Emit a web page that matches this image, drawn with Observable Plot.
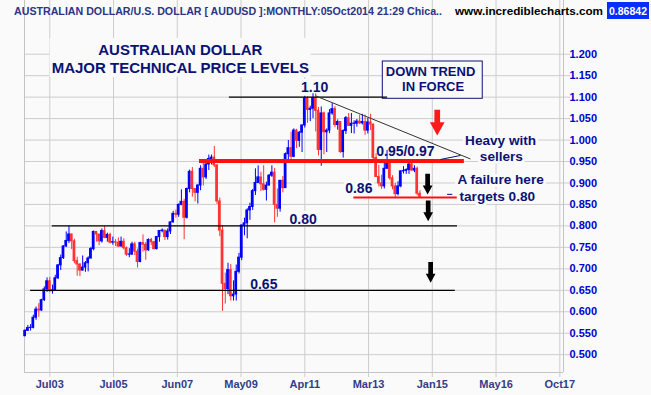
<!DOCTYPE html>
<html>
<head>
<meta charset="utf-8">
<script src="https://cdn.jsdelivr.net/npm/d3@7"></script>
<script src="https://cdn.jsdelivr.net/npm/@observablehq/plot@0.6"></script>
<style>
  html, body { margin: 0; padding: 0; background: #fafafa; }
  #wrap { position: relative; width: 651px; height: 395px; overflow: hidden; background: #fafafa; }
  #wrap svg { display: block; }
  #hdr { position: absolute; left: 0; top: 0; font-family: "Liberation Sans", Arial, sans-serif; font-weight: bold; }
</style>
</head>
<body>
<div id="wrap"></div>
<script>
// ---------------- DATA ----------------
// Monthly AUD/USD bars, index 0 = Oct 2002 ... index 144 = Oct 2014
const firstBar = "Oct 2002";
const open = [
  .5430,.5555,.5620,
  .5625,.5860,.6050,.6030,.6270,.6520,.6710,.6480,.6500,.6780,.7080,.7250,
  .7520,.7650,.7800,.7640,.7180,.7100,.6960,.7030,.7130,.7240,.7460,.7860,
  .7800,.7640,.7880,.7720,.7790,.7610,.7620,.7610,.7520,.7630,.7480,.7330,
  .7330,.7570,.7400,.7160,.7600,.7560,.7430,.7670,.7620,.7460,.7740,.7880,
  .7890,.7740,.7870,.8080,.8280,.8260,.8490,.8560,.8190,.8860,.9260,.8860,
  .8770,.8940,.9330,.9130,.9430,.9560,.9590,.9410,.8570,.7890,.6650,.6530,
  .6970,.6360,.6400,.6930,.7260,.8010,.8060,.8360,.8440,.8810,.9000,.9130,
  .8970,.8840,.8940,.9170,.9240,.8490,.8400,.9050,.8880,.9670,.9810,.9610,
  1.0220,.9980,1.0170,1.0340,1.0970,1.0700,1.0730,1.0980,1.0680,.9770,1.0620,1.0180,
  1.0220,1.0620,1.0720,1.0350,1.0420,.9720,1.0210,1.0510,1.0330,1.0380,1.0380,1.0430,
  1.0390,1.0420,1.0220,1.0410,1.0360,.9580,.9140,.8990,.8920,.9330,.9460,.9110,
  .8920,.8740,.8920,.9270,.9280,.9300,.9430,.9290,.9330,.8750
];
const high = [
  .5580,.5680,.5700,
  .5920,.6110,.6190,.6290,.6580,.6790,.6800,.6620,.6850,.7100,.7320,.7540,
  .7860,.7990,.7810,.7690,.7270,.7120,.7300,.7170,.7280,.7500,.7880,.7870,
  .7800,.7930,.7990,.7830,.7830,.7740,.7680,.7720,.7740,.7700,.7510,.7470,
  .7620,.7620,.7460,.7620,.7790,.7610,.7700,.7710,.7640,.7750,.7890,.7930,
  .7900,.7930,.8100,.8340,.8370,.8510,.8840,.8620,.8880,.9300,.9360,.8870,
  .8960,.9400,.9500,.9510,.9650,.9650,.9850,.9420,.8650,.8010,.6900,.7130,
  .7100,.6720,.7090,.7360,.8020,.8180,.8400,.8530,.8850,.9330,.9400,.9250,
  .9400,.9020,.9200,.9400,.9340,.8860,.9060,.9150,.9700,.9990,1.0180,1.0260,
  1.0250,1.0200,1.0350,1.1010,1.1010,1.0790,1.1080,1.1080,1.0760,1.0770,1.0650,1.0260,
  1.0710,1.0850,1.0780,1.0470,1.0420,1.0240,1.0550,1.0620,1.0620,1.0450,1.0480,1.0580,
  1.0600,1.0580,1.0510,1.0600,1.0370,.9680,.9410,.9180,.9530,.9760,.9530,.9170,
  .8990,.9030,.9280,.9380,.9330,.9470,.9500,.9400,.9370,.8820
];
const low = [
  .5420,.5540,.5550,
  .5600,.5800,.5870,.6010,.6240,.6450,.6440,.6410,.6480,.6750,.6960,.7220,
  .7500,.7590,.7450,.7120,.6830,.6820,.6950,.6920,.6930,.7230,.7420,.7620,
  .7540,.7600,.7700,.7620,.7580,.7550,.7520,.7500,.7510,.7440,.7290,.7260,
  .7320,.7310,.7020,.7140,.7390,.7200,.7410,.7540,.7440,.7440,.7620,.7840,
  .7660,.7670,.7800,.8070,.8180,.8200,.8470,.7680,.8160,.8770,.8670,.8560,
  .8510,.8820,.8930,.9080,.9290,.9420,.9360,.8500,.7750,.6010,.6180,.6400,
  .6250,.6250,.6250,.6880,.7190,.7770,.7700,.8130,.8360,.8710,.8990,.8800,
  .8810,.8580,.8930,.9130,.8070,.8200,.8320,.8770,.8880,.9540,.9540,.9590,
  .9800,.9830,.9710,1.0280,1.0390,1.0430,1.0500,1.0190,.9630,.9390,.9660,.9710,
  1.0150,1.0580,1.0290,1.0230,.9690,.9580,1.0130,1.0320,1.0150,1.0140,1.0300,1.0360,
  1.0350,1.0110,1.0140,1.0220,.9530,.9130,.8910,.8850,.8860,.9320,.9060,.8840,
  .8660,.8700,.8890,.9210,.9200,.9200,.9270,.9240,.8700,.8640
];
const close = [
  .5555,.5620,.5625,
  .5860,.6050,.6030,.6270,.6520,.6710,.6480,.6500,.6780,.7080,.7250,.7520,
  .7650,.7800,.7640,.7180,.7100,.6960,.7030,.7130,.7240,.7460,.7860,.7800,
  .7640,.7880,.7720,.7790,.7610,.7620,.7610,.7520,.7630,.7480,.7330,.7335,
  .7570,.7400,.7160,.7600,.7560,.7430,.7670,.7620,.7460,.7740,.7880,.7890,
  .7740,.7870,.8080,.8280,.8260,.8490,.8560,.8190,.8860,.9260,.8860,.8770,
  .8940,.9330,.9130,.9430,.9560,.9590,.9410,.8570,.7890,.6650,.6530,.6970,
  .6360,.6400,.6930,.7260,.8010,.8060,.8360,.8440,.8810,.9000,.9130,.8970,
  .8840,.8940,.9170,.9240,.8490,.8400,.9050,.8880,.9670,.9810,.9610,1.0220,
  .9980,1.0170,1.0340,1.0970,1.0700,1.0730,1.0980,1.0680,.9770,1.0620,1.0180,1.0220,
  1.0620,1.0720,1.0350,1.0420,.9720,1.0210,1.0510,1.0330,1.0380,1.0385,1.0430,1.0390,
  1.0420,1.0220,1.0410,1.0360,.9580,.9140,.8990,.8920,.9330,.9460,.9110,.8920,
  .8740,.8920,.9270,.9280,.9300,.9430,.9290,.9330,.8750,.8680
];

// axis ticks (x in bar-index units; the grid is evenly spaced on the bar axis)
const xTicks  = [9, 32.25, 55.5, 78.75, 102, 125.25, 148.5, 171.75, 195];
const xLabels = ["Jul03","Jul05","Jun07","May09","Apr11","Mar13","Jan15","May16","Oct17"];
const yTicks  = [0.50,0.55,0.60,0.65,0.70,0.75,0.80,0.85,0.90,0.95,1.00,1.05,1.10,1.15,1.20];

// header texts
const headerTitle = "AUSTRALIAN DOLLAR/U.S. DOLLAR [ AUDUSD ]:MONTHLY:05Oct2014 21:29 Chica..";
const headerSite  = "www.incrediblecharts.com";
const lastPrice   = "0.86842";

// annotations (x = bar index, y = price)
const titleLines = [
  {text: "AUSTRALIAN DOLLAR", x: 56.6, y: 1.2098},
  {text: "MAJOR TECHNICAL PRICE LEVELS", x: 56.6, y: 1.1679}
];
const titleBox = [{x1: 9.1, x2: 104.3, y1: 1.1457, y2: 1.2366}];
const trendBox = [{x1: 130.45, x2: 166.9, y1: 1.0961, y2: 1.183}];
const trendLines = [
  {text: "DOWN TREND", x: 147.85, y: 1.159},
  {text: "IN FORCE", x: 148.8, y: 1.1232}
];
const blackLevels = [
  {price: 1.10, from: 74.5, to: 132.2},
  {price: 0.80, from: 9.9,  to: 157.7},
  {price: 0.65, from: 2.0,  to: 156.9}
];
const resistance = [{price: 0.951, from: 63.6, to: 160.2}];
const support    = [{price: 0.866, from: 119.9, to: 157.6}];
const trendline  = [{x1: 105.9, y1: 1.103, x2: 162.4, y2: 0.956}];
const pointers   = [
  {x1: 151.5, y1: 0.9548, x2: 158.8, y2: 0.9641},
  {x1: 153.9, y1: 0.8735, x2: 155.8, y2: 0.8735}
];
const levelLabels = [
  {text: "1.10", x: 105.6, y: 1.122},
  {text: "0.95/0.97", x: 138.7, y: 0.9727},
  {text: "0.86", x: 121.7, y: 0.8865},
  {text: "0.80", x: 101.4, y: 0.8143},
  {text: "0.65", x: 87.05, y: 0.663}
];
const notes = [
  {text: "Heavy with", x: 173.4, y: 0.9979},
  {text: "sellers", x: 173.7, y: 0.9613},
  {text: "A failure here", x: 173.4, y: 0.907},
  {text: "targets 0.80", x: 172.2, y: 0.8686}
];
const redArrows   = [{x: 150.3, y: 1.0405}];
const blackArrows = [{x: 146.8, y: 0.8973}, {x: 147.0, y: 0.835}, {x: 147.9, y: 0.6916}];

// ---------------- CHART ----------------
const bars = close.map((c, i) => ({i, o: open[i], h: high[i], l: low[i], c}));
const xDomain = [-0.22, 196.35];
const yDomain = [0.4585, 1.3251];

const bg = "#fafafa", grid = "#cdcdcd", navy = "#0b1275";
const up = "#0000ff", down = "#ff3333";

function arrowSymbol(sw, sh, hw, hh) {
  return {
    draw(ctx) {
      const t = -(sh + hh) / 2;
      ctx.moveTo(-sw / 2, t);
      ctx.lineTo(sw / 2, t);
      ctx.lineTo(sw / 2, t + sh);
      ctx.lineTo(hw / 2, t + sh);
      ctx.lineTo(0, t + sh + hh);
      ctx.lineTo(-hw / 2, t + sh);
      ctx.lineTo(-sw / 2, t + sh);
      ctx.closePath();
    }
  };
}

const txt = {text: "text", x: "x", y: "y", fontWeight: "bold", fill: navy};
const halo = {text: "text", x: "x", y: "y", fontWeight: "bold", fill: bg, stroke: bg, strokeWidth: 6};

const chart = Plot.plot({
  width: 651, height: 395,
  marginLeft: 24, marginRight: 88, marginTop: 0, marginBottom: 23,
  x: {domain: xDomain, axis: null, label: null},
  y: {domain: yDomain, axis: null, label: null},
  color: {type: "identity"},
  style: {background: bg, fontFamily: "'Liberation Sans', Arial, sans-serif", overflow: "visible"},
  marks: [
    Plot.ruleY(yTicks, {stroke: grid}),
    Plot.ruleX(xTicks, {stroke: grid}),
    Plot.ruleX(xDomain, {stroke: "#c4c4c4"}),
    Plot.ruleY([yDomain[0]], {stroke: "#c4c4c4"}),
    Plot.rect(titleBox, {x1: "x1", x2: "x2", y1: "y1", y2: "y2", fill: bg}),
    Plot.rect(trendBox, {x1: "x1", x2: "x2", y1: "y1", y2: "y2", fill: bg, stroke: navy, strokeWidth: 1}),
    Plot.text(levelLabels, {...halo, fontSize: 14}),
    Plot.text(notes, {...halo, fontSize: 13.6}),
    // candles
    Plot.ruleX(bars, {x: "i", y1: "l", y2: "h", stroke: d => d.c >= d.o ? up : down, strokeWidth: 1}),
    Plot.rect(bars, {
      x1: d => d.i - 0.5, x2: d => d.i + 0.5,
      y1: d => Math.min(d.o, d.c), y2: d => Math.max(d.o, d.c),
      fill: d => d.c >= d.o ? up : down, insetTop: -0.5, insetBottom: -0.5
    }),
    // levels
    Plot.ruleY(blackLevels, {y: "price", x1: "from", x2: "to", stroke: "#000", strokeWidth: 1.2}),
    Plot.ruleY(resistance, {y: "price", x1: "from", x2: "to", stroke: "#ff1010", strokeWidth: 4}),
    Plot.ruleY(support, {y: "price", x1: "from", x2: "to", stroke: "#ff1010", strokeWidth: 2}),
    Plot.link(trendline, {x1: "x1", y1: "y1", x2: "x2", y2: "y2", stroke: "#333", strokeWidth: 1}),
    Plot.link(pointers, {x1: "x1", y1: "y1", x2: "x2", y2: "y2", stroke: navy, strokeWidth: 1}),
    // texts
    Plot.text(titleLines, {...txt, fontSize: 15}),
    Plot.text(trendLines, {...txt, fontSize: 13}),
    Plot.text(levelLabels, {...txt, fontSize: 14}),
    Plot.text(notes, {...txt, fontSize: 13.6}),
    // arrows
    Plot.dot(redArrows, {x: "x", y: "y", symbol: arrowSymbol(5.7, 12.3, 14.7, 13.3), fill: "#ff1a1a", stroke: "none", r: 5}),
    Plot.dot(blackArrows, {x: "x", y: "y", symbol: arrowSymbol(4.7, 11.7, 9.7, 9), fill: "#000", stroke: "none", r: 4}),
    // axes
    Plot.axisY(yTicks, {anchor: "right", tickSize: 6, tickPadding: 0, tickFormat: d3.format(".3f"),
      stroke: grid, fill: "#0000cc", fontSize: 11, fontWeight: "bold", label: null}),
    Plot.axisX(xTicks, {anchor: "bottom", tickSize: 5, tickPadding: 3,
      tickFormat: d => xLabels[xTicks.indexOf(d)],
      stroke: grid, fill: "#323c8c", fontSize: 11, fontWeight: "bold", label: null})
  ]
});

const wrap = document.getElementById("wrap");
wrap.appendChild(chart);

// header overlay (transparent so the grid shows through)
const ns = "http://www.w3.org/2000/svg";
const hdr = document.createElementNS(ns, "svg");
hdr.setAttribute("id", "hdr");
hdr.setAttribute("width", 651);
hdr.setAttribute("height", 20);
function addText(str, attrs) {
  const t = document.createElementNS(ns, "text");
  for (const k in attrs) t.setAttribute(k, attrs[k]);
  t.textContent = str;
  hdr.appendChild(t);
}
addText(headerTitle, {x: 14, y: 14.5, "font-size": 10.5, fill: "#2b3585", textLength: 428, lengthAdjust: "spacingAndGlyphs"});
addText(headerSite, {x: 455, y: 14.5, "font-size": 11.7, fill: "#000", textLength: 148, lengthAdjust: "spacingAndGlyphs"});
const box = document.createElementNS(ns, "rect");
box.setAttribute("x", 607); box.setAttribute("y", 2); box.setAttribute("width", 42); box.setAttribute("height", 17);
box.setAttribute("fill", "#0a2cff");
hdr.appendChild(box);
addText(lastPrice, {x: 628, y: 14.5, "font-size": 10.5, fill: "#fff", "text-anchor": "middle", textLength: 38, lengthAdjust: "spacingAndGlyphs"});
wrap.appendChild(hdr);
</script>
</body>
</html>
